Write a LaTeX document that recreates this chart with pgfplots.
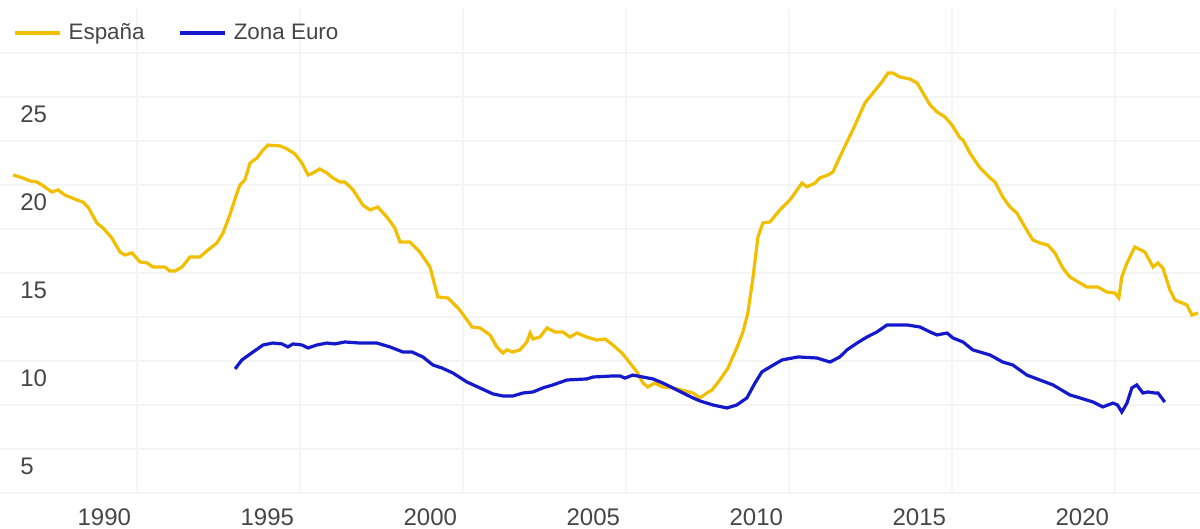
\documentclass[border=0pt]{standalone}
\usepackage{fontspec}
\setmainfont{Liberation Sans}
\usepackage{pgfplots}
\pgfplotsset{compat=1.18}
\definecolor{espcol}{RGB}{242,190,0}
\definecolor{eurocol}{RGB}{20,26,204}
\definecolor{gridcol}{RGB}{245,245,245}
\definecolor{txtcol}{RGB}{70,70,70}
\begin{document}
\begin{tikzpicture}
\useasboundingbox (0,0) rectangle (600pt,264.5pt);
\begin{axis}[
  at={(0pt,18pt)}, anchor=south west,
  scale only axis, width=600pt, height=242pt,
  xmin=1985.80, xmax=2022.61, ymin=2.5, ymax=30,
  axis line style={draw=none}, tick style={draw=none},
  xtick={1990,1995,2000,2005,2010,2015,2020},
  xticklabels={1990,1995,2000,2005,2010,2015,2020},
  ytick={5,10,15,20,25}, yticklabels={5,10,15,20,25},
  minor ytick={2.5,7.5,12.5,17.5,22.5,27.5},
  grid=both,
  major grid style={gridcol, line width=0.6pt},
  minor grid style={gridcol, line width=0.6pt},
  xticklabel style={font=\fontsize{12}{14}\selectfont, text=txtcol, anchor=center, inner sep=0pt, yshift=-12pt, xshift=-16.3pt},
  yticklabel style={font=\fontsize{12}{14}\selectfont, text=txtcol, anchor=west, inner sep=0pt, xshift=10pt, yshift=-8.8pt},
  legend columns=2,
  legend style={at={(axis cs:1986.20,28.64)}, anchor=west, draw=none, fill=none, inner sep=0pt,
    font=\fontsize{11.2}{13}\selectfont, text=txtcol,
    nodes={inner sep=0pt},
    /tikz/every odd column/.append style={column sep=3.5pt},
    /tikz/every even column/.append style={column sep=17pt}},
  legend image code/.code={\draw[#1] (0pt,0pt) -- (22.5pt,0pt);},
]
\addplot[espcol, line width=1.6pt] coordinates {
(1986.20,20.57) (1986.50,20.40) (1986.72,20.23) (1986.93,20.17) (1987.09,20.00)
(1987.39,19.60) (1987.58,19.72) (1987.79,19.43) (1988.16,19.15) (1988.34,19.03)
(1988.50,18.75) (1988.77,17.84) (1988.96,17.56) (1989.23,16.99) (1989.48,16.19)
(1989.63,16.02) (1989.85,16.14) (1990.09,15.63) (1990.31,15.57) (1990.49,15.34)
(1990.86,15.34) (1991.01,15.11) (1991.17,15.11) (1991.38,15.34) (1991.63,15.91)
(1991.93,15.91) (1992.18,16.31) (1992.45,16.70) (1992.64,17.27) (1992.85,18.30)
(1993.07,19.55) (1993.16,20.00) (1993.31,20.28) (1993.47,21.25) (1993.68,21.53)
(1993.87,21.99) (1994.02,22.27) (1994.39,22.22) (1994.60,22.05) (1994.85,21.76)
(1995.06,21.25) (1995.25,20.57) (1995.40,20.68) (1995.61,20.91) (1995.83,20.68)
(1996.01,20.40) (1996.23,20.17) (1996.38,20.17) (1996.63,19.72) (1996.93,18.86)
(1997.15,18.58) (1997.39,18.75) (1997.55,18.41) (1997.67,18.18) (1997.91,17.56)
(1998.07,16.76) (1998.37,16.76) (1998.68,16.19) (1998.99,15.34) (1999.23,13.64)
(1999.54,13.58) (1999.85,13.01) (1999.97,12.73) (2000.28,11.93) (2000.52,11.88)
(2000.83,11.48) (2001.04,10.80) (2001.23,10.45) (2001.35,10.63) (2001.53,10.51)
(2001.75,10.63) (2001.96,11.08) (2002.06,11.59) (2002.15,11.25) (2002.36,11.36)
(2002.58,11.88) (2002.82,11.65) (2003.07,11.65) (2003.28,11.36) (2003.50,11.59)
(2003.80,11.36) (2004.11,11.19) (2004.36,11.25) (2004.60,10.91) (2004.88,10.45)
(2005.12,9.89) (2005.34,9.38) (2005.52,8.75) (2005.67,8.52) (2005.89,8.75)
(2006.13,8.52) (2006.44,8.47) (2006.81,8.30) (2007.06,8.18) (2007.27,7.90)
(2007.48,8.18) (2007.64,8.35) (2007.88,8.92) (2008.13,9.60) (2008.40,10.74)
(2008.59,11.65) (2008.74,12.73) (2008.90,14.77) (2009.05,17.05) (2009.20,17.84)
(2009.42,17.90) (2009.72,18.58) (2010.03,19.15) (2010.25,19.72) (2010.40,20.11)
(2010.55,19.89) (2010.80,20.11) (2010.95,20.40) (2011.20,20.57) (2011.35,20.74)
(2011.56,21.59) (2011.78,22.44) (2011.96,23.13) (2012.33,24.66) (2012.58,25.23)
(2012.85,25.85) (2013.04,26.36) (2013.19,26.36) (2013.40,26.14) (2013.71,26.02)
(2013.93,25.80) (2014.33,24.55) (2014.54,24.15) (2014.79,23.86) (2015.00,23.41)
(2015.25,22.67) (2015.34,22.56) (2015.55,21.82) (2015.86,20.97) (2016.17,20.40)
(2016.32,20.17) (2016.56,19.32) (2016.78,18.75) (2016.99,18.41) (2017.24,17.61)
(2017.48,16.88) (2017.70,16.70) (2017.94,16.59) (2018.16,16.14) (2018.40,15.28)
(2018.62,14.77) (2018.93,14.43) (2019.14,14.20) (2019.48,14.20) (2019.75,13.92)
(2020.00,13.86) (2020.12,13.58) (2020.21,14.77) (2020.37,15.57) (2020.61,16.48)
(2020.92,16.19) (2021.17,15.34) (2021.32,15.57) (2021.47,15.28) (2021.69,14.03)
(2021.84,13.47) (2022.21,13.18) (2022.36,12.61) (2022.55,12.73)
};
\addlegendentry{España}
\addplot[eurocol, line width=1.6pt] coordinates {
(1993.01,9.55) (1993.22,10.06) (1993.56,10.51) (1993.87,10.91) (1994.17,11.02)
(1994.45,10.97) (1994.63,10.80) (1994.79,10.97) (1995.06,10.91) (1995.25,10.74)
(1995.52,10.91) (1995.83,11.02) (1996.07,10.97) (1996.38,11.08) (1996.84,11.02)
(1997.36,11.02) (1997.76,10.80) (1998.16,10.51) (1998.44,10.51) (1998.77,10.23)
(1999.08,9.77) (1999.36,9.60) (1999.69,9.32) (2000.12,8.81) (2000.52,8.47)
(2000.92,8.13) (2001.23,8.01) (2001.53,8.01) (2001.84,8.18) (2002.15,8.24)
(2002.45,8.47) (2002.76,8.64) (2003.19,8.92) (2003.80,8.98) (2003.99,9.09)
(2004.60,9.15) (2004.82,9.15) (2004.97,9.03) (2005.21,9.20) (2005.52,9.09)
(2005.83,8.98) (2006.13,8.75) (2006.44,8.47) (2006.75,8.18) (2007.06,7.90)
(2007.27,7.73) (2007.67,7.50) (2008.10,7.33) (2008.40,7.50) (2008.71,7.90)
(2008.96,8.75) (2009.17,9.38) (2009.42,9.66) (2009.79,10.06) (2010.28,10.23)
(2010.86,10.17) (2011.26,9.94) (2011.56,10.23) (2011.78,10.63) (2012.09,11.02)
(2012.39,11.36) (2012.70,11.65) (2013.01,12.05) (2013.62,12.05) (2014.02,11.93)
(2014.33,11.65) (2014.54,11.48) (2014.85,11.59) (2015.03,11.31) (2015.34,11.08)
(2015.64,10.63) (2016.17,10.34) (2016.56,9.94) (2016.87,9.77) (2017.30,9.20)
(2017.70,8.92) (2018.10,8.64) (2018.62,8.07) (2018.93,7.90) (2019.33,7.67)
(2019.63,7.39) (2019.94,7.61) (2020.08,7.50) (2020.21,7.10) (2020.37,7.61)
(2020.52,8.47) (2020.67,8.64) (2020.86,8.18) (2021.01,8.24) (2021.23,8.18)
(2021.32,8.18) (2021.53,7.67)
};
\addlegendentry{Zona Euro}
\end{axis}
\end{tikzpicture}
\end{document}
